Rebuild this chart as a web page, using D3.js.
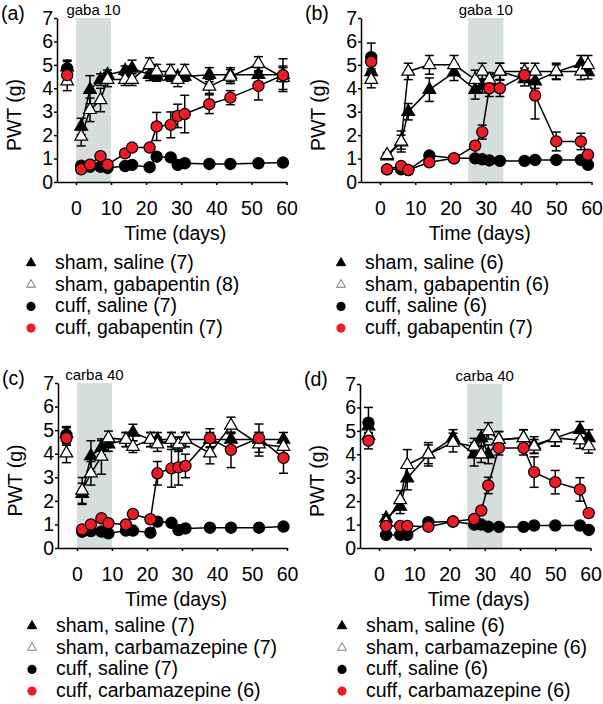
<!DOCTYPE html>
<html>
<head>
<meta charset="utf-8">
<script src="https://cdn.jsdelivr.net/npm/d3@7"></script>
<style>
body { margin: 0; background: #fff; }
svg text { font-family: "Liberation Sans", Arial, Helvetica, sans-serif; fill: #000; }
</style>
</head>
<body>
<svg id="chart" width="603" height="704"></svg>
<script>
// ---- data ----
var tickDays = [0, 10, 20, 30, 40, 50, 60];
var tickPwt = [0, 1, 2, 3, 4, 5, 6, 7];

// panel (a) gabapentin, early treatment
var daysA = [-2.5, 1.5, 4, 7, 9, 14, 16, 21, 23, 27, 29, 31, 38, 44, 52, 59];
var aShamSal = [4.9, 2.37, 3.94, 4.37, 4.58, 4.75, 4.85, 4.58, 4.5, 4.5, 4.5, 4.5, 4.58, 4.58, 4.58, 4.58];
var aShamSalErr = [0.3, 0.35, 0.6, 0.25, 0.2, 0.2, 0.35, 0.25, 0.2, 0.2, 0.2, 0.2, 0.3, 0.3, 0.3, 0.3];
var aShamDrug = [4.3, 1.94, 3.08, 3.5, 4.37, 4.37, 4.37, 5.0, 4.72, 4.72, 4.37, 4.72, 4.08, 4.5, 5.05, 4.45];
var aShamDrugErr = [0.4, 0.4, 0.5, 0.5, 0.3, 0.25, 0.25, 0.3, 0.3, 0.3, 0.3, 0.3, 0.3, 0.3, 0.3, 0.5];
var aCuffSal = [4.85, 0.7, 0.65, 0.65, 0.6, 0.68, 0.73, 0.63, 1.08, 1.05, 0.73, 0.8, 0.77, 0.77, 0.8, 0.83];
var aCuffSalErr = [0.3, 0.1, 0.1, 0.1, 0.1, 0.1, 0.1, 0.1, 0.1, 0.1, 0.1, 0.1, 0.1, 0.1, 0.1, 0.1];
var aCuffDrug = [4.56, 0.54, 0.74, 1.1, 0.74, 1.22, 1.47, 1.47, 2.37, 2.44, 2.82, 2.9, 3.32, 3.6, 4.1, 4.56];
var aCuffDrugErr = [0.25, 0.1, 0.1, 0.15, 0.1, 0.15, 0.15, 0.15, 0.6, 0.55, 0.5, 0.8, 0.4, 0.3, 0.6, 0.7];

// panel (b) gabapentin, late treatment
var daysB = [-2.5, 2, 6, 8, 14, 21, 27, 29, 31, 34, 41, 44, 50, 57, 59];
var bShamSal = [4.7, 1.1, 1.7, 3.0, 3.94, 4.68, 3.94, 4.1, 4.3, 4.72, 4.4, 4.3, 4.7, 5.05, 4.7];
var bShamSalErr = [0.3, 0.1, 0.3, 0.35, 0.5, 0.35, 0.4, 0.3, 0.3, 0.35, 0.3, 0.3, 0.3, 0.35, 0.3];
var bShamDrug = [4.37, 1.16, 1.73, 4.72, 5.0, 5.0, 4.37, 4.72, 4.37, 4.72, 4.72, 4.72, 4.72, 4.72, 5.0];
var bShamDrugErr = [0.35, 0.1, 0.45, 0.35, 0.4, 0.4, 0.4, 0.35, 0.3, 0.35, 0.35, 0.35, 0.35, 0.35, 0.4];
var bCuffSal = [5.33, 0.54, 0.54, 0.51, 1.13, 1.01, 1.01, 0.97, 0.92, 0.9, 0.9, 0.94, 0.94, 0.94, 0.73];
var bCuffSalErr = [0.6, 0.1, 0.1, 0.1, 0.1, 0.1, 0.1, 0.1, 0.1, 0.1, 0.1, 0.1, 0.1, 0.1, 0.1];
var bCuffDrug = [5.13, 0.54, 0.68, 0.51, 0.84, 1.01, 1.55, 2.13, 4.0, 4.0, 4.56, 3.69, 1.73, 1.73, 1.16];
var bCuffDrugErr = [0.3, 0.1, 0.1, 0.1, 0.1, 0.1, 0.15, 0.3, 0.35, 0.35, 0.3, 1.0, 0.4, 0.35, 0.15];

// panel (c) carbamazepine, early treatment
var daysC = [-3, 1.5, 4, 7, 9, 14, 16, 21, 23, 27, 29, 31, 38, 44, 52, 59];
var cShamSal = [4.85, 2.3, 3.9, 4.25, 4.4, 4.6, 4.9, 4.6, 4.6, 4.6, 4.4, 4.6, 4.6, 4.6, 4.6, 4.6];
var cShamSalErr = [0.3, 0.45, 0.65, 0.3, 0.3, 0.3, 0.35, 0.3, 0.3, 0.3, 0.3, 0.3, 0.3, 0.3, 0.3, 0.3];
var cShamDrug = [4.02, 2.44, 3.17, 3.88, 4.66, 4.6, 4.3, 4.6, 4.4, 4.6, 4.4, 4.6, 4.02, 5.2, 4.4, 4.3];
var cShamDrugErr = [0.4, 0.55, 0.5, 0.75, 0.3, 0.3, 0.25, 0.3, 0.3, 0.3, 0.3, 0.3, 0.45, 0.35, 0.5, 0.3];
var cCuffSal = [4.8, 0.69, 0.72, 0.7, 0.62, 0.74, 0.74, 0.65, 1.12, 1.07, 0.76, 0.83, 0.86, 0.86, 0.86, 0.91];
var cCuffSalErr = [0.3, 0.1, 0.1, 0.1, 0.1, 0.1, 0.1, 0.1, 0.1, 0.1, 0.1, 0.1, 0.1, 0.1, 0.1, 0.1];
var cCuffDrug = [4.66, 0.79, 1.0, 1.26, 1.05, 1.0, 1.44, 1.22, 3.17, 3.38, 3.42, 3.48, 4.66, 4.16, 4.66, 3.82];
var cCuffDrugErr = [0.3, 0.1, 0.1, 0.15, 0.1, 0.1, 0.15, 0.15, 0.5, 0.8, 0.75, 0.5, 0.4, 0.75, 0.6, 0.65];

// panel (d) carbamazepine, late treatment
var daysD = [-3, 2, 6, 8, 14, 21, 27, 29, 31, 34, 41, 44, 50, 57, 59.5];
var dShamSal = [5.2, 1.27, 1.77, 2.98, 4.0, 4.7, 4.0, 4.7, 4.0, 4.62, 4.7, 4.4, 4.7, 5.05, 4.7];
var dShamSalErr = [0.3, 0.15, 0.3, 0.5, 0.4, 0.35, 0.5, 0.35, 0.4, 0.35, 0.35, 0.35, 0.35, 0.35, 0.35];
var dShamDrug = [4.8, 1.1, 2.05, 3.55, 4.0, 4.5, 4.33, 4.0, 5.0, 4.62, 4.7, 4.33, 4.7, 4.6, 4.35];
var dShamDrugErr = [0.3, 0.1, 0.4, 0.65, 0.5, 0.4, 0.35, 0.35, 0.35, 0.35, 0.35, 0.3, 0.35, 0.35, 0.3];
var dCuffSal = [5.35, 0.56, 0.56, 0.56, 1.1, 1.13, 1.0, 1.0, 0.91, 0.9, 0.9, 0.96, 0.96, 0.96, 0.77];
var dCuffSalErr = [0.65, 0.1, 0.1, 0.1, 0.1, 0.1, 0.1, 0.1, 0.1, 0.1, 0.1, 0.1, 0.1, 0.1, 0.1];
var dCuffDrug = [4.58, 0.94, 0.94, 0.94, 0.91, 1.13, 1.24, 1.6, 2.67, 4.27, 4.27, 3.24, 2.81, 2.5, 1.49];
var dCuffDrugErr = [0.35, 0.1, 0.1, 0.1, 0.1, 0.1, 0.1, 0.15, 0.35, 0.3, 0.3, 0.65, 0.5, 0.5, 0.15];

var legendA = ['sham, saline (7)', 'sham, gabapentin (8)', 'cuff, saline (7)', 'cuff, gabapentin (7)'];
var legendB = ['sham, saline (6)', 'sham, gabapentin (6)', 'cuff, saline (6)', 'cuff, gabapentin (7)'];
var legendC = ['sham, saline (7)', 'sham, carbamazepine (7)', 'cuff, saline (7)', 'cuff, carbamazepine (6)'];
var legendD = ['sham, saline (6)', 'sham, carbamazepine (6)', 'cuff, saline (6)', 'cuff, carbamazepine (6)'];

// ---- layout ----
var svg = d3.select('#chart');
var red = '#ec1c24';

var panels = [
	{ tag: '(a)', left: 57, right: 286.5, top: 18, bottom: 182, band: [0, 10], bandText: 'gaba 10',
	  days: daysA, legend: legendA, legendX: 31, legendY: 269,
	  series: [[aShamSal, aShamSalErr], [aShamDrug, aShamDrugErr], [aCuffSal, aCuffSalErr], [aCuffDrug, aCuffDrugErr]] },
	{ tag: '(b)', left: 361, right: 591.5, top: 18, bottom: 182, band: [25, 35], bandText: 'gaba 10',
	  days: daysB, legend: legendB, legendX: 341, legendY: 269,
	  series: [[bShamSal, bShamSalErr], [bShamDrug, bShamDrugErr], [bCuffSal, bCuffSalErr], [bCuffDrug, bCuffDrugErr]] },
	{ tag: '(c)', left: 58, right: 287, top: 383, bottom: 548, band: [0, 10], bandText: 'carba 40',
	  days: daysC, legend: legendC, legendX: 32, legendY: 632,
	  series: [[cShamSal, cShamSalErr], [cShamDrug, cShamDrugErr], [cCuffSal, cCuffSalErr], [cCuffDrug, cCuffDrugErr]] },
	{ tag: '(d)', left: 360, right: 590.5, top: 384, bottom: 548, band: [25, 35], bandText: 'carba 40',
	  days: daysD, legend: legendD, legendX: 342, legendY: 632,
	  series: [[dShamSal, dShamSalErr], [dShamDrug, dShamDrugErr], [dCuffSal, dCuffSalErr], [dCuffDrug, dCuffDrugErr]] }
];

// marker style per series: sham saline, sham drug, cuff saline, cuff drug
var styles = [
	{ shape: 'tri', fill: '#000' },
	{ shape: 'tri', fill: '#fff' },
	{ shape: 'circle', fill: '#000' },
	{ shape: 'circle', fill: red }
];

var triangle = d3.symbol().type(d3.symbolTriangle);

panels.forEach(function(p)
{
	var x = d3.scaleLinear().domain([-5.4, 60]).range([p.left, p.right]);
	var y = d3.scaleLinear().domain([0, 7]).range([p.bottom, p.top]);
	var g = svg.append('g');

	// treatment window
	g.append('rect')
		.attr('x', x(p.band[0]))
		.attr('y', y(7))
		.attr('width', x(p.band[1]) - x(p.band[0]))
		.attr('height', y(0) - y(7))
		.attr('fill', '#d5dddd');
	g.append('text')
		.attr('x', (x(p.band[0]) + x(p.band[1])) / 2)
		.attr('y', y(7) - 3)
		.attr('text-anchor', 'middle')
		.style('font-size', '15px')
		.text(p.bandText);

	// axes
	var xAxis = g.append('g')
		.attr('transform', 'translate(0,' + y(0) + ')')
		.call(d3.axisBottom(x).tickValues(tickDays).tickFormat(d3.format('d'))
			.tickSize(3).tickSizeOuter(0).tickPadding(16));
	var yAxis = g.append('g')
		.attr('transform', 'translate(' + x(-5.4) + ',0)')
		.call(d3.axisLeft(y).tickValues(tickPwt).tickFormat(d3.format('d'))
			.tickSize(3).tickSizeOuter(0).tickPadding(1));
	[xAxis, yAxis].forEach(function(ax)
	{
		ax.select('.domain').attr('stroke-width', 1.5);
		ax.selectAll('.tick line').attr('stroke-width', 1.5);
		ax.selectAll('.tick text').style('font-size', '19.5px').attr('font-family', null);
	});

	g.append('text')
		.attr('x', x(28.3))
		.attr('y', y(0) + 58)
		.attr('text-anchor', 'middle')
		.style('font-size', '19.5px')
		.text('Time (days)');
	g.append('text')
		.attr('transform', 'translate(' + (p.left - 36) + ',' + ((y(0) + y(7)) / 2 + 15) + ') rotate(-90)')
		.attr('text-anchor', 'middle')
		.style('font-size', '19.5px')
		.text('PWT (g)');
	g.append('text')
		.attr('x', p.left - 56)
		.attr('y', y(7) + 2)
		.style('font-size', '19.5px')
		.text(p.tag);

	// rows of {day, v, e}
	var rows = p.series.map(function(s)
	{
		return p.days.map(function(d, i) { return { day: d, v: s[0][i], e: s[1][i] }; });
	});

	var line = d3.line().x(function(d) { return x(d.day); }).y(function(d) { return y(d.v); });

	rows.forEach(function(r)
	{
		var eb = g.append('g').attr('stroke', '#000').attr('stroke-width', 1.5);
		eb.selectAll('line.v').data(r).enter().append('line')
			.attr('x1', function(d) { return x(d.day); })
			.attr('x2', function(d) { return x(d.day); })
			.attr('y1', function(d) { return y(d.v - d.e); })
			.attr('y2', function(d) { return y(d.v + d.e); });
		eb.selectAll('line.hi').data(r).enter().append('line')
			.attr('x1', function(d) { return x(d.day) - 4.5; })
			.attr('x2', function(d) { return x(d.day) + 4.5; })
			.attr('y1', function(d) { return y(d.v + d.e); })
			.attr('y2', function(d) { return y(d.v + d.e); });
		eb.selectAll('line.lo').data(r).enter().append('line')
			.attr('x1', function(d) { return x(d.day) - 4.5; })
			.attr('x2', function(d) { return x(d.day) + 4.5; })
			.attr('y1', function(d) { return y(d.v - d.e); })
			.attr('y2', function(d) { return y(d.v - d.e); });
		// the baseline point is not joined to the rest
		g.append('path')
			.datum(r.slice(1))
			.attr('fill', 'none')
			.attr('stroke', '#000')
			.attr('stroke-width', 1.5)
			.attr('d', line);
	});

	rows.forEach(function(r, k)
	{
		var st = styles[k];
		if(st.shape == 'tri')
		{
			g.selectAll(null).data(r).enter().append('path')
				.attr('d', triangle.size(70)())
				.attr('transform', function(d) { return 'translate(' + x(d.day) + ',' + y(d.v) + ')'; })
				.attr('fill', st.fill)
				.attr('stroke', '#000')
				.attr('stroke-width', 1.2);
		}
		else
		{
			g.selectAll(null).data(r).enter().append('circle')
				.attr('cx', function(d) { return x(d.day); })
				.attr('cy', function(d) { return y(d.v); })
				.attr('r', 5.6)
				.attr('fill', st.fill)
				.attr('stroke', '#000')
				.attr('stroke-width', 1.2);
		}
	});

	// legend
	p.legend.forEach(function(txt, k)
	{
		var ly = p.legendY + k * 21.7;
		var st = styles[k];
		if(st.shape == 'tri')
		{
			g.append('path')
				.attr('d', triangle.size(k == 0 ? 38 : 34)())
				.attr('transform', 'translate(' + p.legendX + ',' + (ly - 6) + ')')
				.attr('fill', st.fill)
				.attr('stroke', k == 0 ? '#000' : '#555')
				.attr('stroke-width', k == 0 ? 1 : 0.8);
		}
		else
		{
			g.append('circle')
				.attr('cx', p.legendX)
				.attr('cy', ly - 6)
				.attr('r', 4.6)
				.attr('fill', st.fill);
		}
		g.append('text')
			.attr('x', p.legendX + 24)
			.attr('y', ly)
			.style('font-size', '19.5px')
			.text(txt);
	});
});
</script>
</body>
</html>
